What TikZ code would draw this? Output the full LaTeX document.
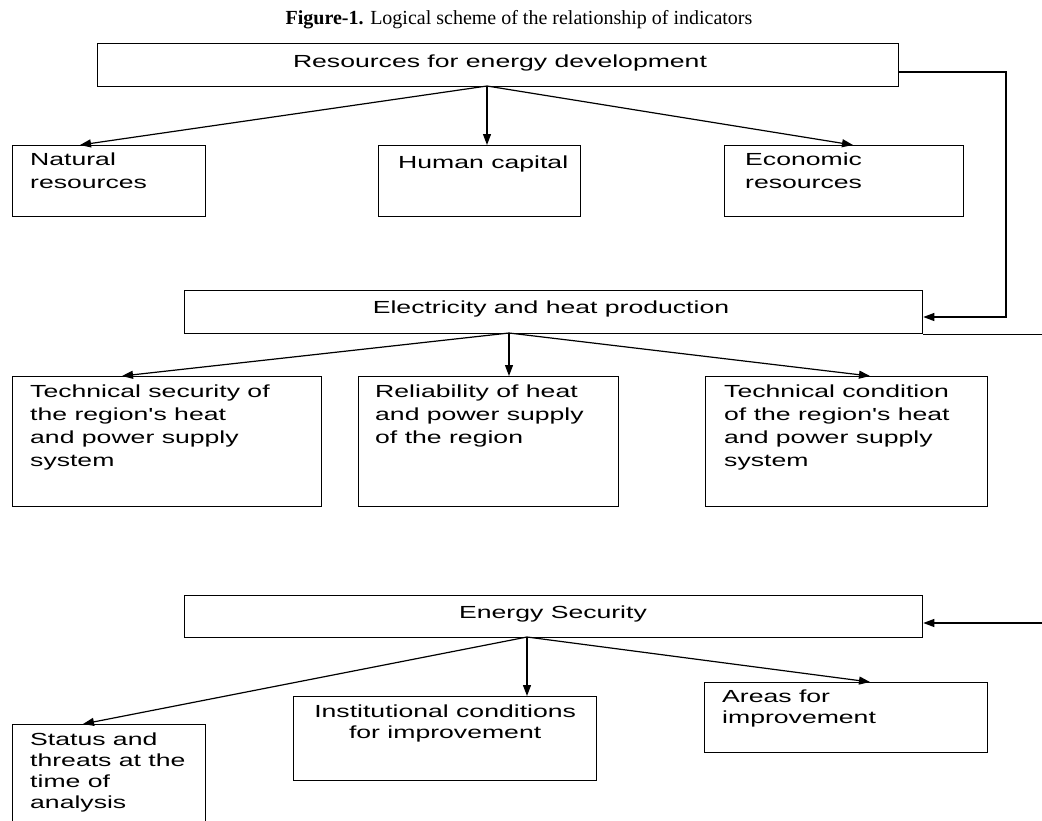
\documentclass[tikz,border=0pt]{standalone}
\usepackage{fontspec}
\setmainfont{Liberation Serif}
\newfontfamily\boxfont{Liberation Sans}[FakeStretch=1.52]
\usetikzlibrary{arrows.meta}

\begin{document}
\begin{tikzpicture}[
  x=1pt, y=-1pt,
  box/.style={draw, line width=1.3pt, inner sep=0pt, anchor=north west},
  txt/.style={font={\boxfont\fontsize{17.5}{23}\selectfont},
    align=left, inner sep=0pt, anchor=north west},
  low/.style={font={\boxfont\fontsize{17.5}{21}\selectfont}},
  head/.style={font={\boxfont\fontsize{17.5}{23}\selectfont},
    inner sep=0pt, anchor=base},
  arr/.style={-{Triangle[length=11pt,width=8pt]}, line width=1.2pt},
  ]
  \clip (0,0) rectangle (1042,820);
  % Caption
  \node[font=\fontsize{20}{22}\selectfont, anchor=base] (cap) at (519,24)
    {\textbf{Figure-1.} Logical scheme of the relationship of indicators};
  % Resources
  \node[box, minimum width=801pt, minimum height=43pt] (res) at (97,43) {};
  \node[head] (res-t) at (500,67) {Resources for energy development};
  \node[box, minimum width=193pt, minimum height=71pt] (nat) at (12,145) {};
  \node[txt] (nat-t) at ([shift={(18,8)}]nat.north west) {Natural\\resources};
  \node[box, minimum width=202pt, minimum height=71pt] (hum) at (378,145) {};
  \node[txt] (hum-t) at ([shift={(20,11)}]hum.north west) {Human capital};
  \node[box, minimum width=239pt, minimum height=71pt] (eco) at (724,145) {};
  \node[txt] (eco-t) at ([shift={(21,8)}]eco.north west) {Economic\\resources};
  \coordinate (r0) at (487,86);
  \draw[arr] (r0) -- ([xshift=68]nat.north west);
  \draw[arr] (r0) -- (r0 |- hum.north);
  \draw[arr] (r0) -- ([xshift=129]eco.north west);
  % Production
  \node[box, minimum width=738pt, minimum height=43pt] (elec) at (184,290) {};
  \node[head] (elec-t) at (551,313) {Electricity and heat production};
  \coordinate (fb) at (1006,72);
  \coordinate (edge) at (1042,333);
  \draw[arr] (res.east |- fb) -- (fb) |- (elec.east |- 0,317);
  \draw[line width=1.2pt] (elec.south east) -- (elec.south east -| edge);
  \node[box, minimum width=309pt, minimum height=130pt] (tsec) at (12,376) {};
  \node[txt] (tsec-t) at ([shift={(18,9)}]tsec.north west)
    {Technical security of\\the region's heat\\and power supply\\system};
  \node[box, minimum width=260pt, minimum height=130pt] (rel) at (358,376) {};
  \node[txt] (rel-t) at ([shift={(17,9)}]rel.north west)
    {Reliability of heat\\and power supply\\of the region};
  \node[box, minimum width=282pt, minimum height=130pt] (tcon) at (705,376) {};
  \node[txt] (tcon-t) at ([shift={(19,9)}]tcon.north west)
    {Technical condition\\of the region's heat\\and power supply\\system};
  \coordinate (e0) at (509,333);
  \draw[arr] (e0) -- ([xshift=110]tsec.north west);
  \draw[arr] (e0) -- (e0 |- rel.north);
  \draw[arr] (e0) -- ([xshift=165]tcon.north west);
  % Security
  \node[box, minimum width=738pt, minimum height=42pt] (esec) at (184,595) {};
  \node[head] (esec-t) at (553,618) {Energy Security};
  \coordinate (in) at (1042,623);
  \draw[arr] (in) -- (esec.east |- in);
  \node[box, minimum width=193pt, minimum height=130pt] (stat) at (12,724) {};
  \node[txt, low] (stat-t) at ([shift={(18,9)}]stat.north west)
    {Status and\\threats at the\\time of\\analysis};
  \node[box, minimum width=303pt, minimum height=84pt] (inst) at (293,696) {};
  \node[txt, low, align=center, anchor=north] (inst-t)
    at ([yshift=-9pt]inst.north) {Institutional conditions\\for improvement};
  \node[box, minimum width=283pt, minimum height=70pt] (area) at (704,682) {};
  \node[txt, low] (area-t) at ([shift={(18,8)}]area.north west)
    {Areas for\\improvement};
  \coordinate (s0) at (527,637);
  \draw[arr] (s0) -- ([xshift=71]stat.north west);
  \draw[arr] (s0) -- (s0 |- inst.north);
  \draw[arr] (s0) -- ([xshift=166]area.north west);
\end{tikzpicture}
\end{document}
